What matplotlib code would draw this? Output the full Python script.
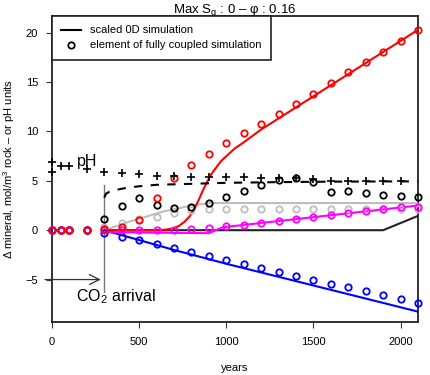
import matplotlib
matplotlib.use("Agg")
import matplotlib.pyplot as plt
from matplotlib.lines import Line2D

plt.rcParams['font.family'] = ['Liberation Sans', 'DejaVu Sans']
plt.rcParams['mathtext.fontset'] = 'custom'
plt.rcParams['mathtext.rm'] = 'Liberation Sans'
plt.rcParams['mathtext.it'] = 'Liberation Sans:italic'

# ---------------- data ----------------
t_pts = [0, 50, 100, 200, 300, 400, 500, 600, 700, 800, 900, 1000, 1100,
         1200, 1300, 1400, 1500, 1600, 1700, 1800, 1900, 2000, 2100]
red_pts = [0, 0, 0, 0, 0.1, 0.3, 1.0, 3.3, 5.3, 6.6, 7.7, 8.8, 9.8,
           10.8, 11.8, 12.8, 13.8, 14.9, 16.0, 17.0, 18.1, 19.2, 20.3]
blue_pts = [0, 0, 0, 0, -0.3, -0.7, -1.0, -1.4, -1.8, -2.2, -2.6, -3.0, -3.4,
            -3.8, -4.2, -4.6, -5.0, -5.4, -5.8, -6.2, -6.6, -7.0, -7.4]
magenta_pts = [0, 0, 0, 0, 0.0, 0.0, 0.0, 0.0, 0.0, 0.1, 0.2, 0.4, 0.5,
               0.7, 0.9, 1.1, 1.3, 1.5, 1.7, 1.9, 2.1, 2.3, 2.4]
gray_pts = [0, 0, 0, 0, 0.3, 0.7, 1.1, 1.3, 1.7, 2.0, 2.1, 2.1, 2.1,
            2.1, 2.1, 2.1, 2.1, 2.1, 2.1, 2.1, 2.1, 2.1, 2.1]
black_pts = [0, 0, 0, 0, 1.1, 2.5, 3.3, 2.6, 2.2, 2.4, 2.8, 3.4, 4.0,
             4.6, 5.05, 5.25, 4.85, 3.9, 4.0, 3.75, 3.6, 3.45, 3.35]

t_ph = [0, 0, 50, 100, 200, 300, 400, 500, 600, 700, 800, 900, 1000, 1100,
        1200, 1300, 1400, 1500, 1600, 1700, 1800, 1900, 2000]
ph_pts = [6.9, 5.9, 6.5, 6.5, 6.2, 5.9, 5.75, 5.65, 5.5, 5.45, 5.4, 5.4, 5.35, 5.35,
          5.3, 5.25, 5.25, 5.15, 5.0, 5.0, 4.97, 4.97, 4.97]

t_red_line = [300, 600, 650, 700, 730, 760, 790, 815, 840, 865, 890, 915,
              940, 970, 1000, 1050, 1100, 1200, 2100]
red_line = [0, 0, 0.05, 0.2, 0.45, 0.85, 1.4, 2.1, 3.0, 4.0, 4.9, 5.7,
            6.3, 7.0, 7.5, 8.3, 8.9, 10.2, 20.3]
t_blue_line = [300, 500, 700, 1000, 1500, 2100]
blue_line = [0, -1.0, -2.0, -3.4, -5.6, -8.25]
t_mag_line = [300, 900, 980, 2100]
mag_line = [-0.2, -0.3, 0.3, 2.5]
t_gray_line = [300, 450, 640, 800, 900, 950, 2100]
gray_line = [0, 0.9, 1.9, 2.5, 2.75, 2.75, 2.75]
t_black_line = [300, 1900, 2100]
black_line = [0, 0, 1.45]
t_ph_line = [300, 310, 330, 360, 400, 450, 500, 600, 800, 1000, 1300, 1600, 2100]
ph_line = [3.3, 3.7, 3.9, 4.05, 4.2, 4.35, 4.45, 4.6, 4.7, 4.8, 4.87, 4.92, 4.95]

co2_time = 300
x_ticks = [0, 500, 1000, 1500, 2000]
y_ticks = [-5, 0, 5, 10, 15, 20]

# ---------------- figure ----------------
W, H = 431, 375
fig = plt.figure(figsize=(W / 100, H / 100), dpi=100)
ax = fig.add_axes([52 / W, 1 - 322 / H, (418 - 52) / W, (322 - 16) / H])
ax.set_xlim(0, 2100)
ax.set_ylim(-9.3, 21.7)

lw = 1.5
# vertical CO2 arrival line
ax.plot([co2_time, co2_time], [4.6, -6.25], color='#777777', lw=1.0, zorder=2)

# model lines
ax.plot(t_gray_line, gray_line, color='#bebebe', lw=lw, zorder=3)
ax.plot(t_black_line, black_line, color='#222222', lw=lw, zorder=3)
ax.plot(t_blue_line, blue_line, color='#0000ff', lw=lw, zorder=3)
ax.plot(t_mag_line, mag_line, color='#ff00ff', lw=lw, zorder=3)
ax.plot(t_red_line, red_line, color='#ff0000', lw=lw, zorder=3)
ax.plot(t_ph_line, ph_line, color='black', lw=lw, dashes=(4, 4), zorder=3)

ms = 4.6
mew = 1.3
kw = dict(ls='none', marker='o', ms=ms, mew=mew, mfc='none', zorder=4, clip_on=False)
ax.plot(t_pts, gray_pts, mec='#bebebe', **kw)
ax.plot(t_pts, black_pts, mec='black', **kw)
ax.plot(t_pts, blue_pts, mec='#0000ff', **kw)
ax.plot(t_pts, magenta_pts, mec='#ff00ff', **kw)
ax.plot(t_pts, red_pts, mec='#ff0000', **kw)
ax.plot(t_ph, ph_pts, ls='none', marker='+', ms=6, mew=1.2, color='black',
        zorder=5, clip_on=False)

# annotations
ax.text(143, 7.0, 'pH', fontsize=11.5, va='center', ha='left')
ax.annotate('', xy=(280, -5), xytext=(-40, -5),
            arrowprops=dict(arrowstyle='->', color='#333333', lw=0.9,
                            mutation_scale=18, shrinkA=0, shrinkB=0),
            annotation_clip=False)
ax.text(138, -6.7, 'CO$_2$ arrival', fontsize=11.5, va='center', ha='left')

# axes styling
for s in ax.spines.values():
    s.set_linewidth(1.3)
    s.set_color('#222222')
ax.set_xticks(x_ticks)
ax.set_yticks(y_ticks)
ax.tick_params(direction='out', length=4, width=0.8, labelsize=8, color='#333333')
ax.tick_params(axis='x', pad=7)
ax.tick_params(axis='y', pad=6)
ax.set_xlabel('years', fontsize=8, labelpad=11)
ax.set_ylabel('Δ mineral, mol/m$^3$ rock – or pH units', fontsize=8, labelpad=6)
ax.text(0.5, 1.0 + 3.0 / 306, 'Max $\\mathregular{S_g}$ : 0 – φ : 0.16',
        fontsize=9.5, ha='center', va='baseline', transform=ax.transAxes)

handles = [Line2D([], [], color='black', lw=lw),
           Line2D([], [], ls='none', marker='o', ms=ms, mew=mew, mfc='none', mec='black')]
leg = ax.legend(handles, ['scaled 0D simulation', 'element of fully coupled simulation'],
                loc='upper left', bbox_to_anchor=(0, 1), borderaxespad=0,
                fontsize=8, frameon=True, fancybox=False, handlelength=1.8,
                handletextpad=0.8, labelspacing=0.45, borderpad=0.85)
leg.get_frame().set_edgecolor('#222222')
leg.get_frame().set_linewidth(1.2)
leg.get_frame().set_alpha(1)

fig.savefig('out.png', dpi=100)
